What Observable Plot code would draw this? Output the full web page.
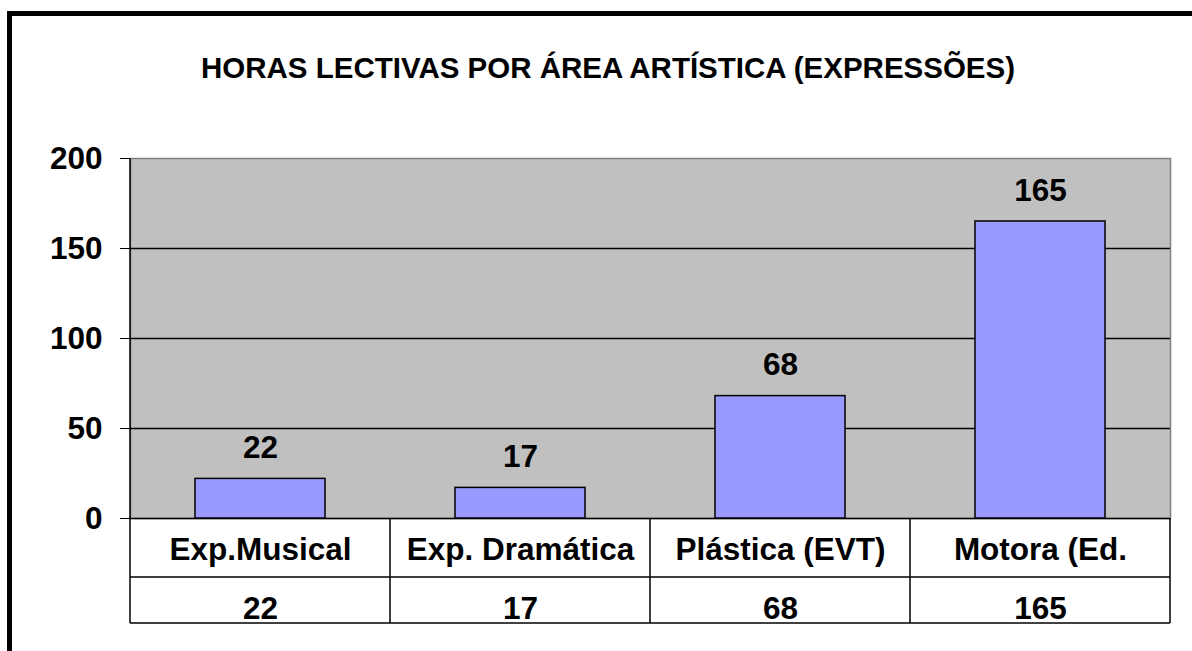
<!DOCTYPE html>
<html>
<head>
<meta charset="utf-8">
<script src="https://cdn.jsdelivr.net/npm/d3@7"></script>
<script src="https://cdn.jsdelivr.net/npm/@observablehq/plot@0.6"></script>
<style>
  html, body { margin: 0; padding: 0; background: #fff; overflow: hidden; }
  #wrap { position: relative; width: 1192px; height: 651px; font-family: "Liberation Sans", Arial, sans-serif; }
  #border { position: absolute; left: 7px; top: 11px; width: 2000px; height: 2000px;
            border-left: 5px solid #000; border-top: 5px solid #000; pointer-events: none; }
  #title { position: absolute; left: 12px; width: 1192px; top: 50px; text-align: center;
           font-weight: bold; font-size: 29.5px; line-height: 36px; color: #000; white-space: nowrap; }
  #chart { position: absolute; left: 0; top: 120px; }
  #chart svg { overflow: visible; }
</style>
</head>
<body>
<div id="wrap">
  <div id="title">HORAS LECTIVAS POR ÁREA ARTÍSTICA (EXPRESSÕES)</div>
  <div id="chart"></div>
  <div id="border"></div>
</div>
<script>
const categories = ["Exp.Musical", "Exp. Dramática", "Plástica (EVT)", "Motora (Ed."];
const hours = [22, 17, 68, 165];
const yTicks = [0, 50, 100, 150, 200];

(function () {
  const data = categories.map((c, i) => ({category: c, hours: hours[i]}));
  const font = "Liberation Sans, Arial, sans-serif";
  const fs = 31.5;

  const chart = Plot.plot({
    width: 1192,
    height: 531,
    marginLeft: 130,
    marginRight: 22,
    marginTop: 38,
    marginBottom: 133,
    style: {fontFamily: font, fontSize: fs + "px", fontWeight: "bold", color: "#000", background: "transparent", overflow: "visible"},
    x: {domain: categories, paddingInner: 0.5, paddingOuter: 0.25, axis: null},
    y: {domain: [0, 200], ticks: yTicks, tickSize: 10, tickPadding: 18, label: null, line: false},
    marks: [
      Plot.frame({fill: "#C0C0C0", stroke: "#808080", strokeWidth: 1.5}),
      Plot.ruleY(yTicks.filter(t => t < 200), {stroke: "#000", strokeWidth: 1.5}),
      Plot.barY(data, {x: "category", y: "hours", fill: "#9999FF", stroke: "#000", strokeWidth: 1.5}),
      Plot.text(data, {x: "category", y: "hours", text: d => String(d.hours), dy: -31, lineAnchor: "middle",
                       fontSize: fs, fontWeight: "bold", fill: "#000"}),
      Plot.text(data, {x: "category", text: "category", frameAnchor: "bottom", lineAnchor: "middle", dy: 31,
                       fontSize: fs, fontWeight: "bold", fill: "#000"}),
      Plot.text(data, {x: "category", text: d => String(d.hours), frameAnchor: "bottom", lineAnchor: "middle", dy: 90,
                       fontSize: fs, fontWeight: "bold", fill: "#000"})
    ]
  });

  document.getElementById("chart").appendChild(chart);

  // Data table grid lines below the plot, positioned from the plot's own scales
  const xs = chart.scale("x");
  const ys = chart.scale("y");
  const step = xs.apply(categories[1]) - xs.apply(categories[0]);
  const bw = xs.bandwidth;
  const yBottom = ys.apply(0);
  const yTop = ys.apply(200);
  const row1 = yBottom + 59;
  const row2 = yBottom + 105;
  const bounds = categories.map(c => xs.apply(c) + bw / 2 - step / 2);
  bounds.push(xs.apply(categories[categories.length - 1]) + bw / 2 + step / 2);

  const svg = d3.select(chart);
  const g = svg.append("g").attr("stroke", "#000").attr("stroke-width", 1.5).attr("fill", "none");
  g.append("line").attr("x1", bounds[0]).attr("x2", bounds[0]).attr("y1", yTop).attr("y2", row2);
  bounds.slice(1).forEach(b => {
    g.append("line").attr("x1", b).attr("x2", b).attr("y1", yBottom).attr("y2", row2);
  });
  [row1, row2].forEach(r => {
    g.append("line").attr("x1", bounds[0]).attr("x2", bounds[bounds.length - 1]).attr("y1", r).attr("y2", r);
  });
})();
</script>
</body>
</html>
